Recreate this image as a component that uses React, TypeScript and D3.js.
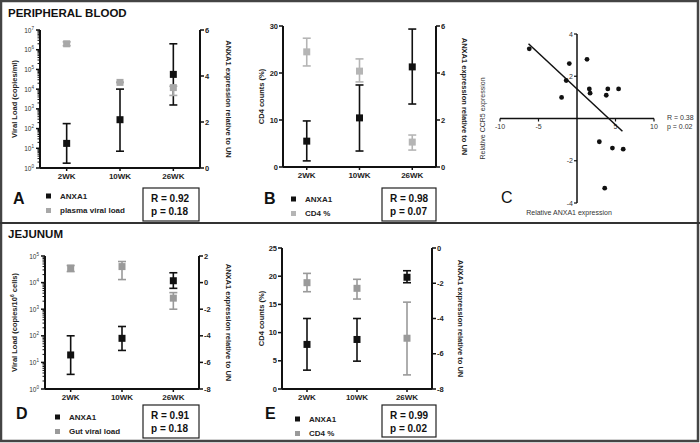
import React from "react";
import * as d3 from "d3";

const FONT = "'Liberation Sans', Arial, sans-serif";

const WEEKS = ["2WK", "10WK", "26WK"];

// A - peripheral blood: plasma viral load (log, left) and ANXA1 (right)
const A_ANXA1 = [1.07, 2.1, 4.07];
const A_ANXA1_LO = [0.21, 0.73, 2.74];
const A_ANXA1_HI = [1.93, 3.43, 5.4];
const A_PVL = [2.0e6, 2.2e4, 1.2e4];
const A_PVL_LO = [1.6e6, 2.2e4, 4.8e3];
const A_PVL_HI = [2.5e6, 2.2e4, 1.4e4];

// B - peripheral blood: CD4 % (left) and ANXA1 (right)
const B_ANXA1 = [1.1, 2.09, 4.26];
const B_ANXA1_LO = [0.26, 0.68, 2.68];
const B_ANXA1_HI = [1.96, 3.49, 5.87];
const B_CD4 = [24.5, 20.4, 5.3];
const B_CD4_LO = [21.5, 18.1, 3.6];
const B_CD4_HI = [27.4, 23.0, 6.8];

// C - scatter ANXA1 vs CCR5
const C_X = [-6.2, -1.0, 1.3, -1.4, -2.0, 1.6, 1.7, 4.0, 3.8, 5.4, 2.9, 4.6, 6.0, 3.6];
const C_Y = [3.3, 2.6, 2.8, 1.8, 1.0, 1.4, 1.2, 1.4, 1.1, 1.4, -1.1, -1.4, -1.45, -3.3];
const C_FIT = { slope: -0.34, intercept: 1.4, from: -6.3, to: 5.9 };

// D - jejunum: gut viral load (log, left) and ANXA1 (right)
const D_ANXA1 = [-5.44, -4.19, 0.14];
const D_ANXA1_LO = [-6.9, -5.1, -0.43];
const D_ANXA1_HI = [-4.0, -3.3, 0.74];
const D_GVL = [3.5e4, 4.0e4, 2.6e3];
const D_GVL_LO = [2.6e4, 1.3e4, 1.0e3];
const D_GVL_HI = [4.4e4, 6.2e4, 4.2e3];

// E - jejunum: CD4 % (left) and ANXA1 (right)
const E_ANXA1 = [-5.47, -5.19, -1.66];
const E_ANXA1_LO = [-6.93, -6.42, -1.97];
const E_ANXA1_HI = [-4.0, -4.0, -1.29];
const E_CD4 = [18.85, 17.85, 9.0];
const E_CD4_LO = [17.25, 15.95, 2.5];
const E_CD4_HI = [20.5, 19.45, 15.4];

type Series = { mid: number[]; lo: number[]; hi: number[]; color: string; axis: "left" | "right" };

type PanelProps = {
  left: number; right: number; top: number; bottom: number; pad: number;
  log: boolean; leftDomain: [number, number]; leftTicks: number[];
  rightDomain: [number, number]; rightTicks: number[];
  leftTitle: React.ReactNode; leftTitleX: number;
  rightTitle: string; rightTitleX: number;
  series: Series[];
  letter: string; letterX: number; letterY: number;
  legend: { label: string; color: string }[]; legendX: number; legendY: number;
  stats: string[]; boxX: number; boxY: number; boxW: number; boxH: number;
};

function Panel(p: PanelProps) {
  const x = d3.scalePoint<string>().domain(WEEKS).range([p.left, p.right]).padding(p.pad);
  const yL: any = p.log
    ? d3.scaleLog().domain(p.leftDomain).range([p.bottom, p.top])
    : d3.scaleLinear().domain(p.leftDomain).range([p.bottom, p.top]);
  const yR = d3.scaleLinear().domain(p.rightDomain).range([p.bottom, p.top]);
  const midY = (p.top + p.bottom) / 2;

  const minor: number[] = [];
  if (p.log) {
    const e0 = Math.round(Math.log10(p.leftDomain[0]));
    const e1 = Math.round(Math.log10(p.leftDomain[1]));
    for (let e = e0; e < e1; e++) for (let m = 2; m < 10; m++) minor.push(m * Math.pow(10, e));
  }

  return (
    <g fontFamily={FONT} fontWeight="bold">
      {/* axes */}
      <line x1={p.left} x2={p.left} y1={p.top} y2={p.bottom} stroke="#111" strokeWidth={2} />
      <line x1={p.right} x2={p.right} y1={p.top} y2={p.bottom} stroke="#111" strokeWidth={2} />
      <line x1={p.left} x2={p.right} y1={p.bottom} y2={p.bottom} stroke="#111" strokeWidth={2} />
      {WEEKS.map((w) => (
        <g key={w}>
          <line x1={x(w)} x2={x(w)} y1={p.bottom} y2={p.bottom + 3} stroke="#111" strokeWidth={1.5} />
          <text x={x(w)} y={p.bottom + 11} fontSize={8} textAnchor="middle" fill="#222">{w}</text>
        </g>
      ))}
      {minor.map((v) => (
        <line key={v} x1={p.left - 2.5} x2={p.left} y1={yL(v)} y2={yL(v)} stroke="#111" strokeWidth={1} />
      ))}
      {p.leftTicks.map((v) => (
        <g key={"l" + v}>
          <line x1={p.left - 4} x2={p.left} y1={yL(v)} y2={yL(v)} stroke="#111" strokeWidth={1.5} />
          {p.log ? (
            <text x={p.left - 6} y={yL(v) + 2.5} fontSize={6.5} textAnchor="end" fill="#333" fontWeight="normal">
              10<tspan dy={-3} fontSize={4.5}>{Math.round(Math.log10(v))}</tspan>
            </text>
          ) : (
            <text x={p.left - 5} y={yL(v) + 2.5} fontSize={7.5} textAnchor="end" fill="#222">{v}</text>
          )}
        </g>
      ))}
      {p.rightTicks.map((v) => (
        <g key={"r" + v}>
          <line x1={p.right} x2={p.right + 4} y1={yR(v)} y2={yR(v)} stroke="#111" strokeWidth={1.5} />
          <text x={p.right + 5} y={yR(v) + 2.5} fontSize={7.5} textAnchor="start" fill="#222">{v}</text>
        </g>
      ))}
      <text transform={`translate(${p.leftTitleX},${midY}) rotate(-90)`} fontSize={7.5} textAnchor="middle" fill="#222">
        {p.leftTitle}
      </text>
      <text transform={`translate(${p.rightTitleX},${midY}) rotate(90)`} fontSize={7.5} textAnchor="middle" fill="#222">
        {p.rightTitle}
      </text>

      {/* series */}
      {p.series.map((s, si) => {
        const y = s.axis === "left" ? yL : yR;
        return (
          <g key={si}>
            {WEEKS.map((w, i) => {
              const cx = x(w) as number;
              return (
                <g key={w} stroke={s.color} strokeWidth={1.6}>
                  <line x1={cx} x2={cx} y1={y(s.lo[i])} y2={y(s.hi[i])} />
                  <line x1={cx - 4} x2={cx + 4} y1={y(s.lo[i])} y2={y(s.lo[i])} />
                  <line x1={cx - 4} x2={cx + 4} y1={y(s.hi[i])} y2={y(s.hi[i])} />
                  <rect x={cx - 3.5} y={y(s.mid[i]) - 3.5} width={7} height={7} fill={s.color} stroke="none" />
                </g>
              );
            })}
          </g>
        );
      })}

      {/* letter, legend, stats */}
      <text x={p.letterX} y={p.letterY} fontSize={16} fill="#111">{p.letter}</text>
      {p.legend.map((l, i) => (
        <g key={l.label}>
          <rect x={p.legendX} y={p.legendY + i * 14.5 - 2.5} width={5} height={5} fill={l.color} />
          <text x={p.legendX + 14} y={p.legendY + i * 14.5 + 2.8} fontSize={8} fill="#222">{l.label}</text>
        </g>
      ))}
      <rect x={p.boxX} y={p.boxY} width={p.boxW} height={p.boxH} fill="white" stroke="#222" strokeWidth={1.2} />
      {p.stats.map((t, i) => (
        <text key={t} x={p.boxX + 8} y={p.boxY + 14 + i * 13} fontSize={10} fill="#111">{t}</text>
      ))}
    </g>
  );
}

function Scatter() {
  const xS = d3.scaleLinear().domain([-10, 10]).range([500, 654]);
  const yS = d3.scaleLinear().domain([-4, 4]).range([203, 34]);
  const line = d3.line<number>()
    .x((d) => xS(d))
    .y((d) => yS(C_FIT.slope * d + C_FIT.intercept));
  const xt = [-10, -5, 5, 10];
  const yt = [4, 2, -2, -4];
  return (
    <g fontFamily={FONT} fill="#333">
      <line x1={xS(-10)} x2={xS(10)} y1={yS(0)} y2={yS(0)} stroke="#111" strokeWidth={1.5} />
      <line x1={xS(0)} x2={xS(0)} y1={yS(-4)} y2={yS(4)} stroke="#111" strokeWidth={1.5} />
      {xt.map((v) => (
        <g key={v}>
          <line x1={xS(v)} x2={xS(v)} y1={yS(0)} y2={yS(0) + 3} stroke="#111" strokeWidth={1.2} />
          <text x={xS(v)} y={yS(0) + 10} fontSize={7} textAnchor="middle">{v}</text>
        </g>
      ))}
      {yt.map((v) => (
        <g key={v}>
          <line x1={xS(0) - 3} x2={xS(0)} y1={yS(v)} y2={yS(v)} stroke="#111" strokeWidth={1.2} />
          <text x={xS(0) - 4} y={yS(v) + 2.5} fontSize={7} textAnchor="end">{v}</text>
        </g>
      ))}
      <path d={line([C_FIT.from, C_FIT.to]) || ""} stroke="#111" strokeWidth={1.5} fill="none" />
      {C_X.map((v, i) => (
        <circle key={i} cx={xS(v)} cy={yS(C_Y[i])} r={2.4} fill="#111" />
      ))}
      <text transform={`translate(485,${yS(0)}) rotate(-90)`} fontSize={7} textAnchor="middle">Relative CCR5 expression</text>
      <text x={569} y={215} fontSize={7} textAnchor="middle">Relative ANXA1 expression</text>
      <text x={667} y={120} fontSize={7}>R = 0.38</text>
      <text x={667} y={129} fontSize={7}>p = 0.02</text>
      <text x={501} y={203} fontSize={16} fill="#111">C</text>
    </g>
  );
}

export default function App() {
  return (
    <svg width={700} height={443} style={{ position: "absolute", left: 0, top: 0, background: "white" }}>
      <rect x={1} y={1} width={697} height={440} fill="white" stroke="#444" strokeWidth={2.5} />
      <line x1={0} x2={700} y1={223} y2={223} stroke="#333" strokeWidth={2} />
      <text x={8} y={17} fontFamily={FONT} fontWeight="bold" fontSize={11.5} fill="#111">PERIPHERAL BLOOD</text>
      <text x={8} y={238} fontFamily={FONT} fontWeight="bold" fontSize={11.5} fill="#111">JEJUNUM</text>

      <Panel
        left={40} right={200} top={30} bottom={168} pad={0.5}
        log leftDomain={[1, 1e7]} leftTicks={[1, 10, 100, 1e3, 1e4, 1e5, 1e6, 1e7]}
        rightDomain={[0, 6]} rightTicks={[0, 2, 4, 6]}
        leftTitle="Viral Load (copies/ml)" leftTitleX={17}
        rightTitle="ANXA1 expression relative to UN" rightTitleX={226}
        series={[
          { mid: A_ANXA1, lo: A_ANXA1_LO, hi: A_ANXA1_HI, color: "#111", axis: "right" },
          { mid: A_PVL, lo: A_PVL_LO, hi: A_PVL_HI, color: "#a8a8a8", axis: "left" },
        ]}
        letter="A" letterX={13} letterY={204}
        legend={[{ label: "ANXA1", color: "#111" }, { label: "plasma viral load", color: "#a8a8a8" }]}
        legendX={46} legendY={196}
        stats={["R = 0.92", "p = 0.18"]} boxX={143} boxY={188} boxW={56} boxH={33}
      />
      <Panel
        left={283} right={436} top={26} bottom={167} pad={0.45}
        log={false} leftDomain={[0, 30]} leftTicks={[0, 10, 20, 30]}
        rightDomain={[0, 6]} rightTicks={[0, 2, 4, 6]}
        leftTitle="CD4 counts (%)" leftTitleX={264}
        rightTitle="ANXA1 expression relative to UN" rightTitleX={462}
        series={[
          { mid: B_ANXA1, lo: B_ANXA1_LO, hi: B_ANXA1_HI, color: "#111", axis: "right" },
          { mid: B_CD4, lo: B_CD4_LO, hi: B_CD4_HI, color: "#b5b5b5", axis: "left" },
        ]}
        letter="B" letterX={264} letterY={204}
        legend={[{ label: "ANXA1", color: "#111" }, { label: "CD4 %", color: "#b5b5b5" }]}
        legendX={291} legendY={199}
        stats={["R = 0.98", "p = 0.07"]} boxX={382} boxY={188} boxW={54} boxH={33}
      />
      <Scatter />
      <Panel
        left={45} right={199} top={256} bottom={389} pad={0.5}
        log leftDomain={[1, 1e5]} leftTicks={[1, 10, 100, 1e3, 1e4, 1e5]}
        rightDomain={[-8, 2]} rightTicks={[-8, -6, -4, -2, 0, 2]}
        leftTitle={<>Viral Load (copies/10<tspan dy={-3} fontSize={5}>6</tspan><tspan dy={3}> cells)</tspan></>} leftTitleX={17}
        rightTitle="ANXA1 expression relative to UN" rightTitleX={226}
        series={[
          { mid: D_ANXA1, lo: D_ANXA1_LO, hi: D_ANXA1_HI, color: "#111", axis: "right" },
          { mid: D_GVL, lo: D_GVL_LO, hi: D_GVL_HI, color: "#9a9a9a", axis: "left" },
        ]}
        letter="D" letterX={16} letterY={419}
        legend={[{ label: "ANXA1", color: "#111" }, { label: "Gut viral load", color: "#9a9a9a" }]}
        legendX={55} legendY={417}
        stats={["R = 0.91", "p = 0.18"]} boxX={143} boxY={405} boxW={56} boxH={33}
      />
      <Panel
        left={282} right={432} top={248} bottom={389} pad={0.5}
        log={false} leftDomain={[0, 25]} leftTicks={[0, 5, 10, 15, 20, 25]}
        rightDomain={[-8, 0]} rightTicks={[-8, -6, -4, -2, 0]}
        leftTitle="CD4 counts (%)" leftTitleX={264}
        rightTitle="ANXA1 expression relative to UN" rightTitleX={458}
        series={[
          { mid: E_ANXA1, lo: E_ANXA1_LO, hi: E_ANXA1_HI, color: "#111", axis: "right" },
          { mid: E_CD4, lo: E_CD4_LO, hi: E_CD4_HI, color: "#9a9a9a", axis: "left" },
        ]}
        letter="E" letterX={265} letterY={419}
        legend={[{ label: "ANXA1", color: "#111" }, { label: "CD4 %", color: "#9a9a9a" }]}
        legendX={295} legendY={419}
        stats={["R = 0.99", "p = 0.02"]} boxX={382} boxY={405} boxW={54} boxH={32}
      />
    </svg>
  );
}
